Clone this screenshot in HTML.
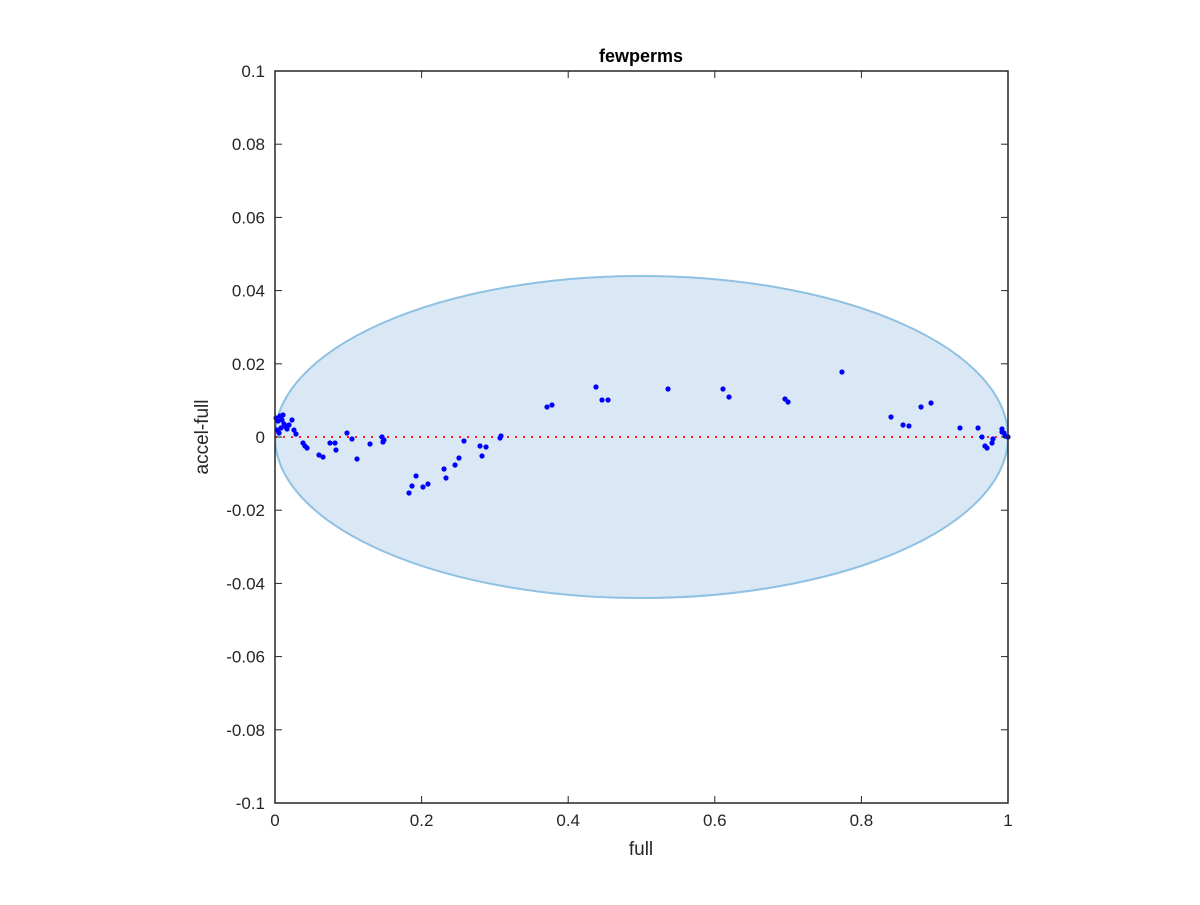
<!DOCTYPE html>
<html><head><meta charset="utf-8"><style>
body{margin:0;background:#fff;}
svg text{font-family:"Liberation Sans",sans-serif;}
</style></head><body>
<svg id="chart" width="1200" height="900" xmlns="http://www.w3.org/2000/svg">
<rect width="1200" height="900" fill="#fff"/>
<g id="plot"></g>
</svg>
<script>
const xTicks=[0,0.2,0.4,0.6,0.8,1];
const xTickLabels=["0","0.2","0.4","0.6","0.8","1"];
const yTicks=[0.1,0.08,0.06,0.04,0.02,0,-0.02,-0.04,-0.06,-0.08,-0.1];
const yTickLabels=["0.1","0.08","0.06","0.04","0.02","0","-0.02","-0.04","-0.06","-0.08","-0.1"];
const ellipseCenter=[0.5,0];
const ellipseRadii=[0.5,0.044];
const pxPoints=[[276,418],[278,421],[280,416],[282,420],[284,424],[286,427],[289,425],[292,420],[294,430],[296,434],[277,430],[281,428],[283,415],[287,429],[279,433],[303,443],[305,446],[307,448],[319,455],[323,457],[330,443],[335,443],[336,450],[347,433],[352,439],[357,459],[370,444],[382,437],[383,442],[384,440],[409,493],[412,486],[416,476],[423,487],[428,484],[444,469],[446,478],[455,465],[459,458],[464,441],[480,446],[482,456],[486,447],[500,438],[501,436],[547,407],[552,405],[596,387],[602,400],[608,400],[668,389],[723,389],[729,397],[785,399],[788,402],[842,372],[891,417],[903,425],[909,426],[921,407],[931,403],[960,428],[978,428],[1002,429],[1004,433],[982,437],[985,446],[987,448],[993,439],[992,443],[1002,432],[1005,436],[1008,437]];
const xVals=pxPoints.map(p=>+((p[0]-275)/733).toFixed(4));
const yVals=pxPoints.map(p=>+((437-p[1])/3660).toFixed(5));

const L=275,R=1008,T=71,B=803;
const sx=v=>L+(v-0)/(1-0)*(R-L);
const sy=v=>B-(v+0.1)/0.2*(B-T);
const NS="http://www.w3.org/2000/svg";
const g=document.getElementById('plot');
function mk(tag,attrs,parent){const e=document.createElementNS(NS,tag);for(const k in attrs)e.setAttribute(k,attrs[k]);(parent||g).appendChild(e);return e;}

const cp=mk('clipPath',{id:'clip'});mk('rect',{x:L,y:T,width:R-L,height:B-T},cp);
const el=mk('ellipse',{cx:sx(ellipseCenter[0]),cy:sy(ellipseCenter[1]),rx:sx(ellipseRadii[0])-sx(0),ry:sy(0)-sy(ellipseRadii[1]),fill:'#d9e8f4',stroke:'#8fc1e3','stroke-width':2,'clip-path':'url(#clip)'});


const zl=mk('line',{x1:L,x2:R,y1:sy(0),y2:sy(0),stroke:'#ff2020','stroke-width':2,'stroke-dasharray':'2,6'});


for(let i=0;i<xVals.length;i++){
 const c=mk('circle',{cx:sx(xVals[i]),cy:sy(yVals[i]),r:2.6,fill:'#0000ff'});
 
 
}
const fr=mk('rect',{x:L,y:T,width:R-L,height:B-T,fill:'none',stroke:'#262626','stroke-width':1.5});


xTicks.forEach((v,i)=>{
 mk('line',{x1:sx(v),x2:sx(v),y1:B,y2:B-7,stroke:'#262626'});
 mk('line',{x1:sx(v),x2:sx(v),y1:T,y2:T+7,stroke:'#262626'});
 const t=mk('text',{x:sx(v),y:B+23,'text-anchor':'middle','font-size':17,fill:'#262626'});t.textContent=xTickLabels[i];
 
 
});
yTicks.forEach((v,i)=>{
 mk('line',{x1:L,x2:L+7,y1:sy(v),y2:sy(v),stroke:'#262626'});
 mk('line',{x1:R,x2:R-7,y1:sy(v),y2:sy(v),stroke:'#262626'});
 const t=mk('text',{x:L-10,y:sy(v)+6,'text-anchor':'end','font-size':17,fill:'#262626'});t.textContent=yTickLabels[i];
 
 
});
const tt=mk('text',{x:641,y:62,'text-anchor':'middle','font-size':18,'font-weight':'bold',fill:'#000'});tt.textContent='fewperms';


const xl=mk('text',{x:641,y:855,'text-anchor':'middle','font-size':19,fill:'#262626'});xl.textContent='full';


const yl=mk('text',{x:0,y:0,'text-anchor':'middle','font-size':19,fill:'#262626',transform:'translate(208,437) rotate(-90)'});yl.textContent='accel-full';


</script>
</body></html>
